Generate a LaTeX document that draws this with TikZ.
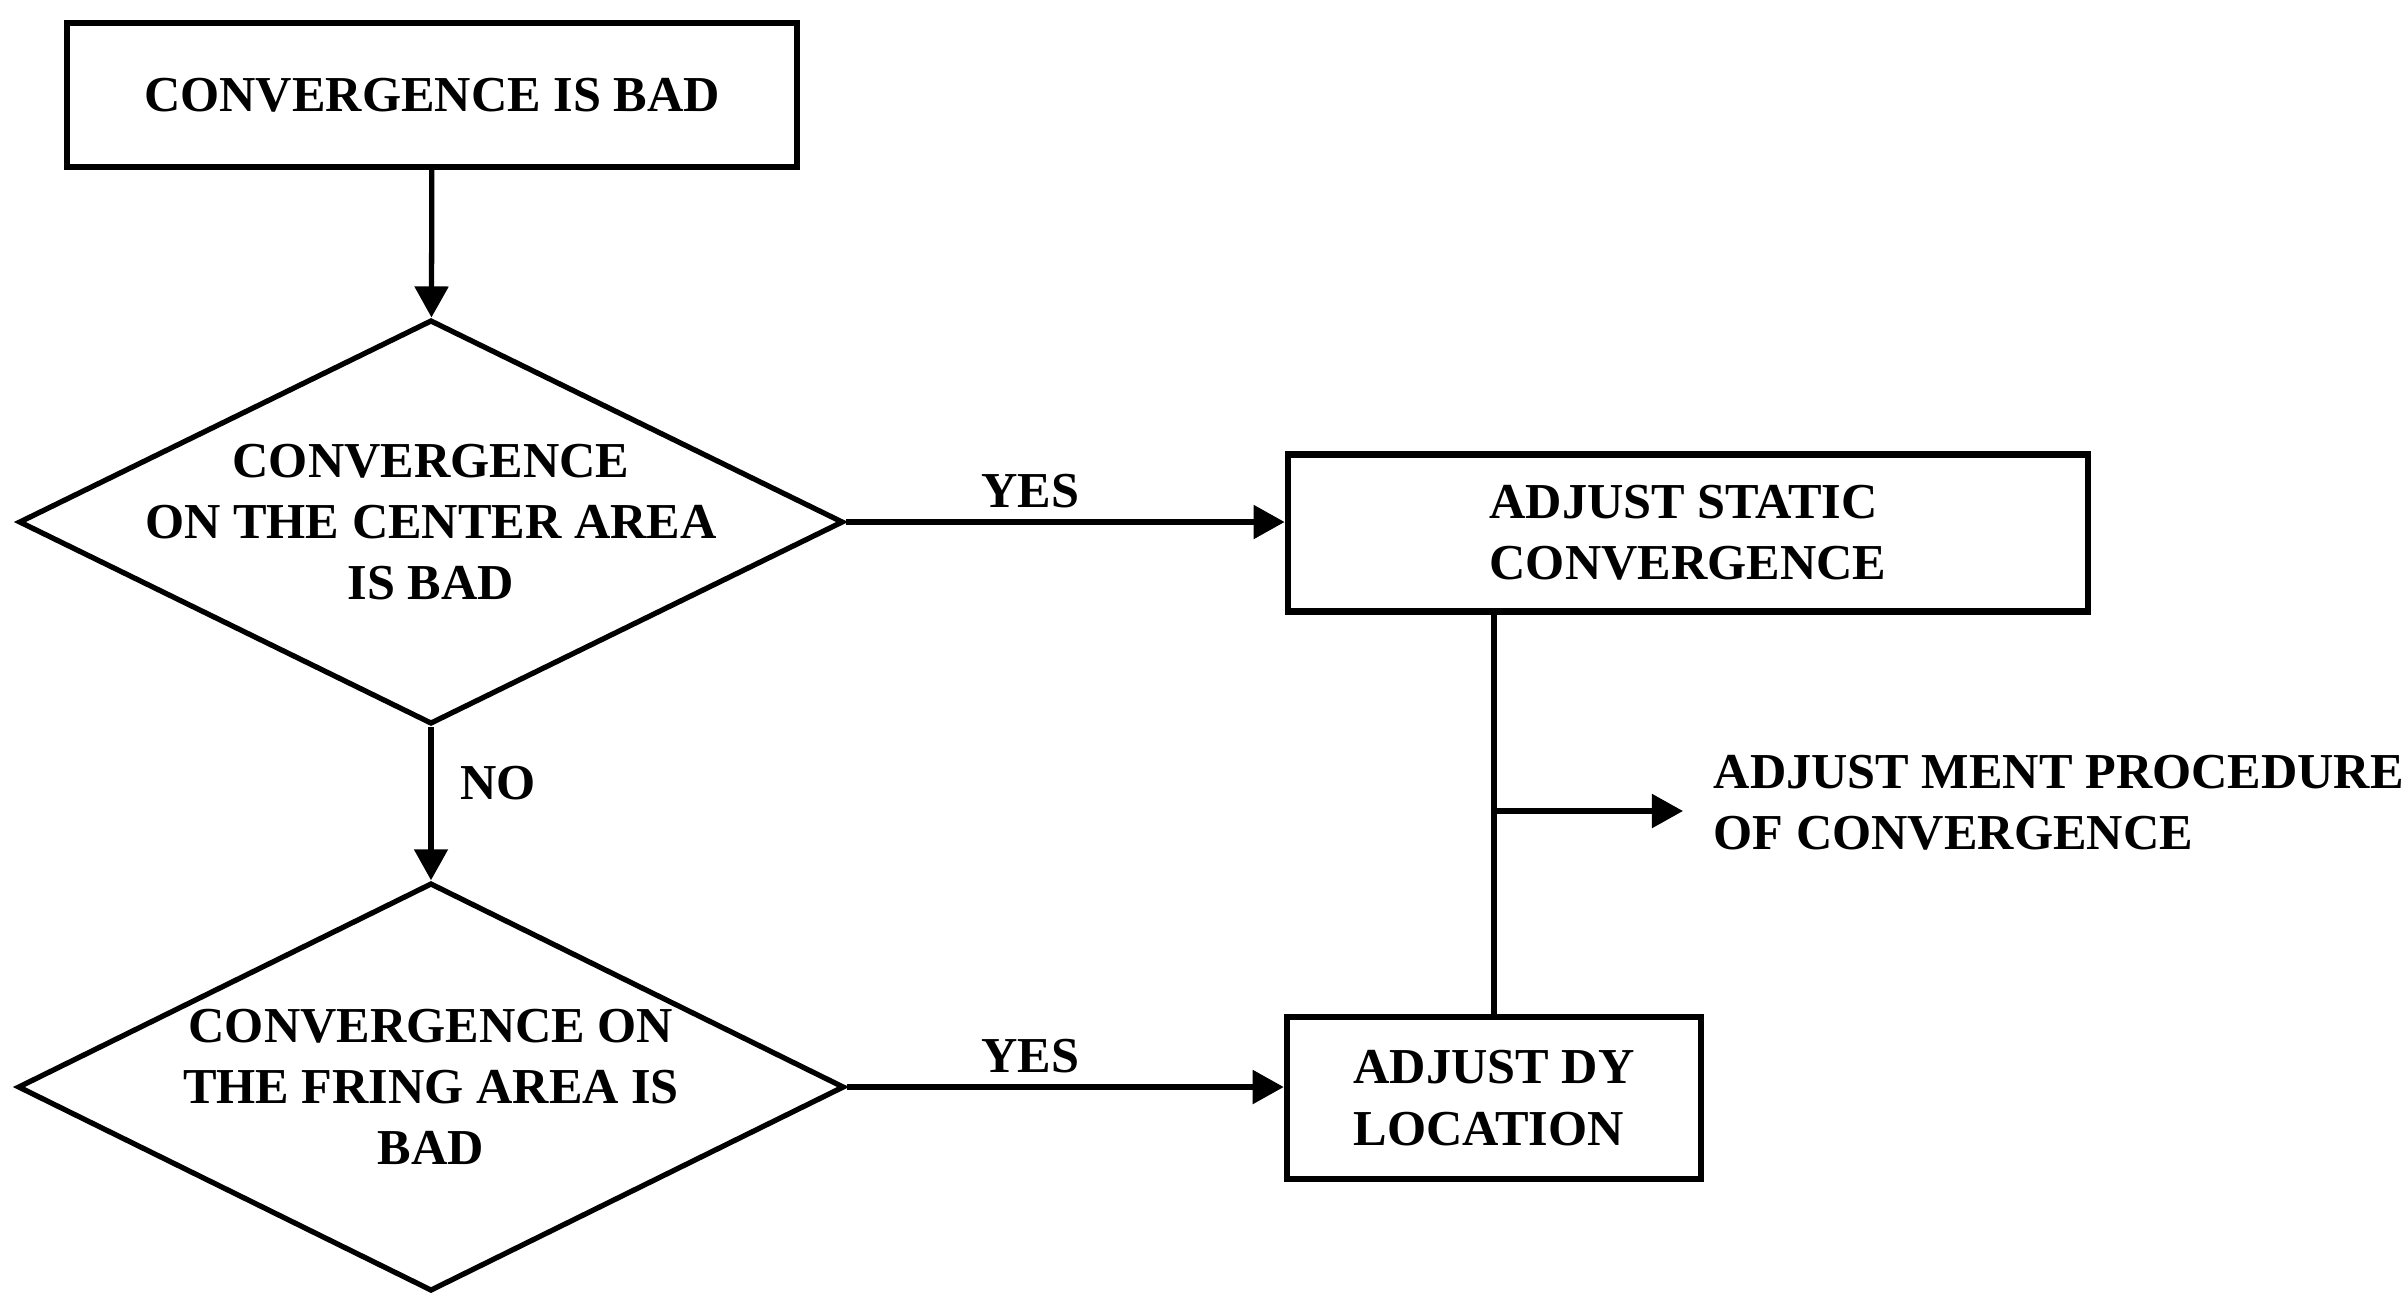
\documentclass[tikz,border=0pt]{standalone}
\usepackage{fontspec}
\setmainfont{Liberation Serif}
\usetikzlibrary{arrows.meta,shapes.geometric}

\begin{document}
\begin{tikzpicture}[x=0.01cm,y=-0.01cm,
        font=\fontsize{14.3}{17.4}\selectfont\bfseries,
        box/.style={draw,line width=1.8pt,inner sep=0pt},
        decide/.style={draw,diamond,line width=1.5pt,inner sep=0pt},
        arr/.style={line width=1.5pt,-{Triangle[length=0.31cm,width=0.33cm]}}]
            \useasboundingbox (0,0) rectangle (2404,1293);
            % left column
            \node[box,minimum width=7.29cm,minimum height=1.44cm] (bad) at (432,95) {CONVERGENCE IS BAD};
            \node[decide,minimum width=8.24cm,minimum height=4.04cm] (center) at (431,522) {};
            \node[align=center] (centertxt) at (center) {CONVERGENCE\\ON THE CENTER AREA\\IS BAD};
            \node[decide,minimum width=8.26cm,minimum height=4.08cm] (fringe) at (431,1087) {};
            \node[align=center] (fringetxt) at (fringe) {CONVERGENCE ON\\THE FRING AREA IS\\BAD};
            % right column
            \node[box,align=left,minimum width=8.0cm,minimum height=1.57cm] (static) at (1688,533) {ADJUST STATIC\\CONVERGENCE};
            \node[box,align=left,minimum width=4.14cm,minimum height=1.62cm] (dy) at (1494,1098) {ADJUST DY\\LOCATION};
            \node[align=left,anchor=west,inner sep=0pt] (proc) at (1713,803) {ADJUST MENT PROCEDURE\\OF CONVERGENCE};
            \coordinate (jn) at (dy.north |- 0,811);
            % connectors
            \draw[arr] (bad) -- (center);
            \draw[arr] (center.south) -- node[right,pos=0.37,xshift=0.15cm] (no) {NO} (fringe.north);
            \foreach \d/\b in {center/static,fringe/dy}
                \draw[arr] (\d.east) -- node[above,pos=0.42] (yes\d) {YES} (\d.east -| \b.west);
            \draw[line width=1.5pt] (dy.north) -- (dy.north |- static.south);
            \draw[arr,shorten >=0.3cm] (jn) -- (jn -| proc.west);
        \end{tikzpicture}
\end{document}
